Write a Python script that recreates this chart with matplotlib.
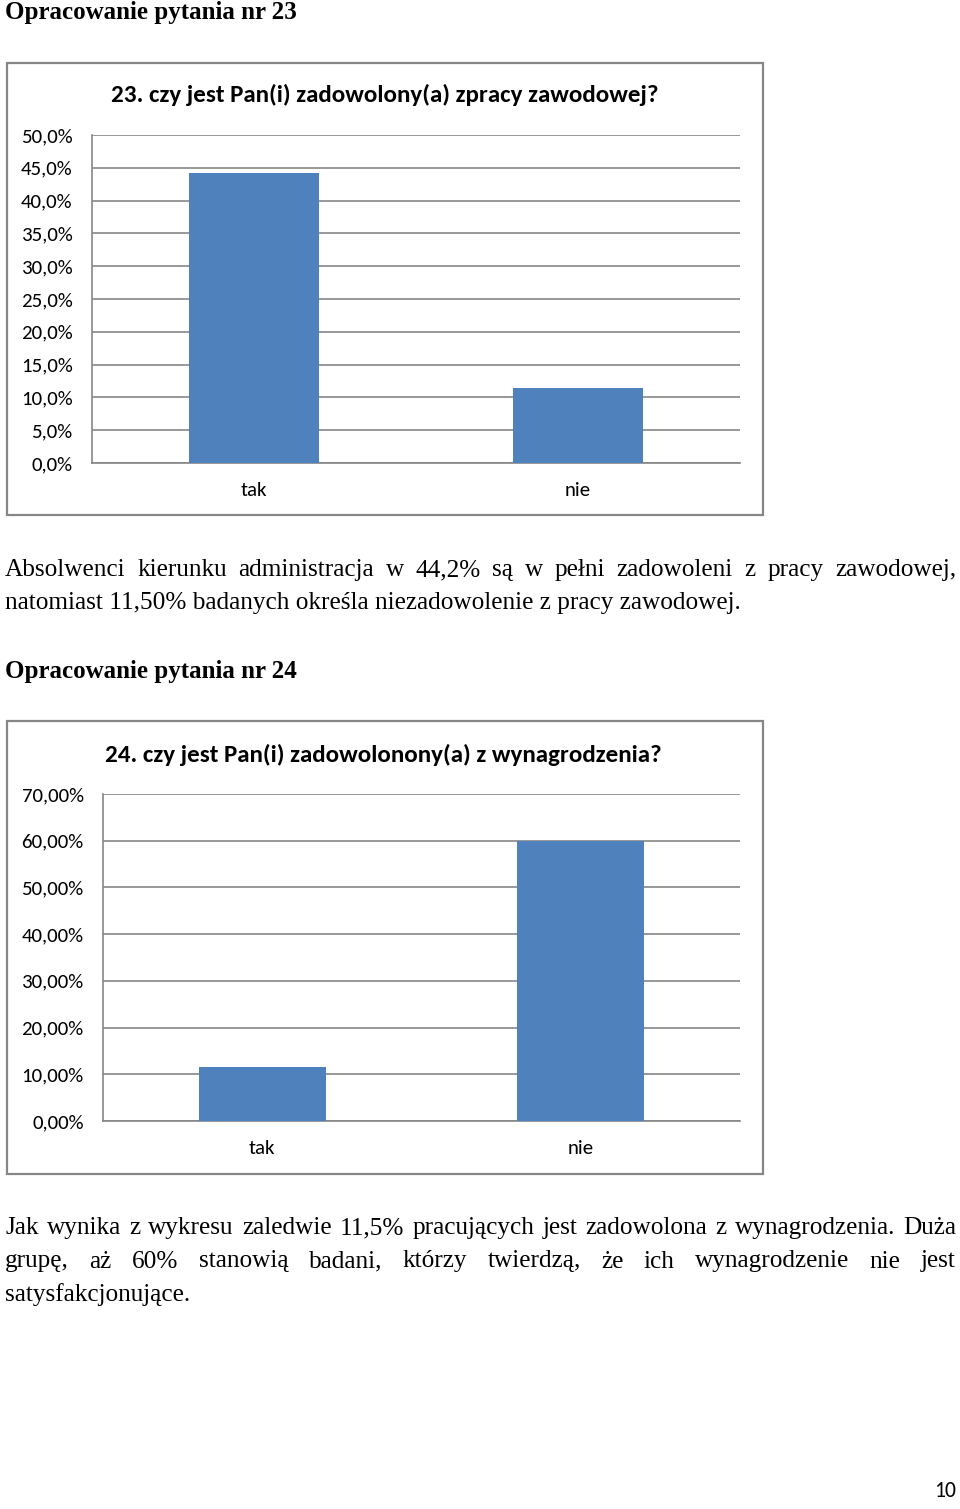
import matplotlib
matplotlib.use("Agg")
import matplotlib.pyplot as plt
from matplotlib.patches import Rectangle
from matplotlib.ticker import FuncFormatter, MultipleLocator
import numpy as np

# ---------------- data ----------------
categories = ["tak", "nie"]
q23_values = [44.2, 11.5]
q24_values = [11.5, 60.0]
q23_ymax, q23_step = 50, 5
q24_ymax, q24_step = 70, 10

heading1 = "Opracowanie pytania nr 23"
heading2 = "Opracowanie pytania nr 24"
title1 = "23. czy jest Pan(i) zadowolony(a) zpracy zawodowej?"
title2 = "24. czy jest Pan(i) zadowolonony(a) z wynagrodzenia?"
para1 = [
    ("Absolwenci kierunku administracja w 44,2% są w pełni zadowoleni z pracy zawodowej,", True),
    ("natomiast 11,50% badanych określa niezadowolenie z pracy zawodowej.", False),
]
para2 = [
    ("Jak wynika z wykresu zaledwie 11,5% pracujących jest zadowolona z wynagrodzenia. Duża", True),
    ("grupę, aż 60% stanowią badani, którzy twierdzą, że ich wynagrodzenie nie jest", True),
    ("satysfakcjonujące.", False),
]
page_number = "10"

# ---------------- layout helpers ----------------
W, H = 960, 1509
fig = plt.figure(figsize=(W / 100, H / 100), dpi=100)
renderer = fig.canvas.get_renderer()

SERIF = ["Liberation Serif", "DejaVu Serif"]
SANS = ["Carlito", "Lato", "DejaVu Sans"]
BAR = "#4F81BD"
GREY = "#868686"


def fx(x):
    return x / W


def fy(y):
    return 1 - y / H


def text_width(s, size, family, weight="normal"):
    t = fig.text(0, 0, s, fontsize=size, family=family, weight=weight)
    w = t.get_window_extent(renderer).width
    t.remove()
    return w


def fit_size(s, width, family, weight="normal"):
    return 20 * width / text_width(s, 20, family, weight)


def justify(line, x0, x1, y, size, family, full):
    words = line.split(" ")
    if not full:
        fig.text(fx(x0), fy(y), line, fontsize=size, family=family,
                 va="baseline", ha="left")
        return
    widths = [text_width(w, size, family) for w in words]
    gap = (x1 - x0 - sum(widths)) / (len(words) - 1)
    x = x0
    for w, wd in zip(words, widths):
        fig.text(fx(x), fy(y), w, fontsize=size, family=family,
                 va="baseline", ha="left")
        x += wd + gap


# ---------------- document text ----------------
body_size = fit_size(para1[1][0], 735, SERIF)
head_size = fit_size(heading1, 292, SERIF, "bold")

fig.text(fx(5), fy(19), heading1, fontsize=head_size, family=SERIF,
         weight="bold", va="baseline")
fig.text(fx(5), fy(678), heading2, fontsize=head_size, family=SERIF,
         weight="bold", va="baseline")

for i, (line, full) in enumerate(para1):
    justify(line, 5, 956, 576 + 33 * i, body_size, SERIF, full)
for i, (line, full) in enumerate(para2):
    justify(line, 5, 956, 1234 + 33.5 * i, body_size, SERIF, full)

# ---------------- charts ----------------
tick_size = fit_size("50,0%", 52, SANS)
title_size = fit_size(title1, 549, SANS, "bold")
page_size = fit_size(page_number, 22, SANS)

fig.text(fx(956), fy(1497), page_number, fontsize=page_size, family=SANS,
         ha="right", va="baseline")


def chart(frame, area, values, ymax, step, decimals, title, title_xy):
    fl, ft, fr, fb = frame
    fig.patches.append(Rectangle((fx(fl), fy(fb)), (fr - fl) / W, (fb - ft) / H,
                                 transform=fig.transFigure, fill=False,
                                 edgecolor=GREY, lw=1.6, zorder=0))
    l, t, r, b = area
    ax = fig.add_axes([fx(l), fy(b), (r - l) / W, (b - t) / H])
    x = np.arange(len(categories))
    ax.bar(x, values, width=0.4, color=BAR, zorder=3)
    ax.set_xlim(-0.5, len(categories) - 0.5)
    ax.set_ylim(0, ymax)
    ax.yaxis.set_major_locator(MultipleLocator(step))
    ax.yaxis.set_major_formatter(FuncFormatter(
        lambda v, p: (f"{v:.{decimals}f}%").replace(".", ",")))
    ax.set_xticks(x)
    ax.set_xticklabels(categories)
    ax.grid(axis="y", color=GREY, lw=1.2, zorder=0)
    ax.set_axisbelow(True)
    for s in ("top", "right"):
        ax.spines[s].set_visible(False)
    for s in ("left", "bottom"):
        ax.spines[s].set_color(GREY)
        ax.spines[s].set_linewidth(1.2)
    ax.tick_params(axis="both", length=0, labelsize=tick_size, colors="black")
    ax.tick_params(axis="y", pad=14)
    ax.tick_params(axis="x", pad=14)
    for lab in ax.get_xticklabels() + ax.get_yticklabels():
        lab.set_family(SANS)
    ax.set_facecolor("none")
    fig.text(fx(title_xy[0]), fy(title_xy[1]), title, fontsize=title_size,
             family=SANS, weight="bold", va="baseline", ha="left")
    return ax


chart((7, 63, 763, 515), (92, 135, 740, 463), q23_values, q23_ymax, q23_step, 1,
      title1, (111, 102))
chart((7, 721, 763, 1174), (103, 794, 740, 1121), q24_values, q24_ymax, q24_step, 2,
      title2, (105, 762))

fig.savefig("out.png", dpi=100, facecolor="white")
